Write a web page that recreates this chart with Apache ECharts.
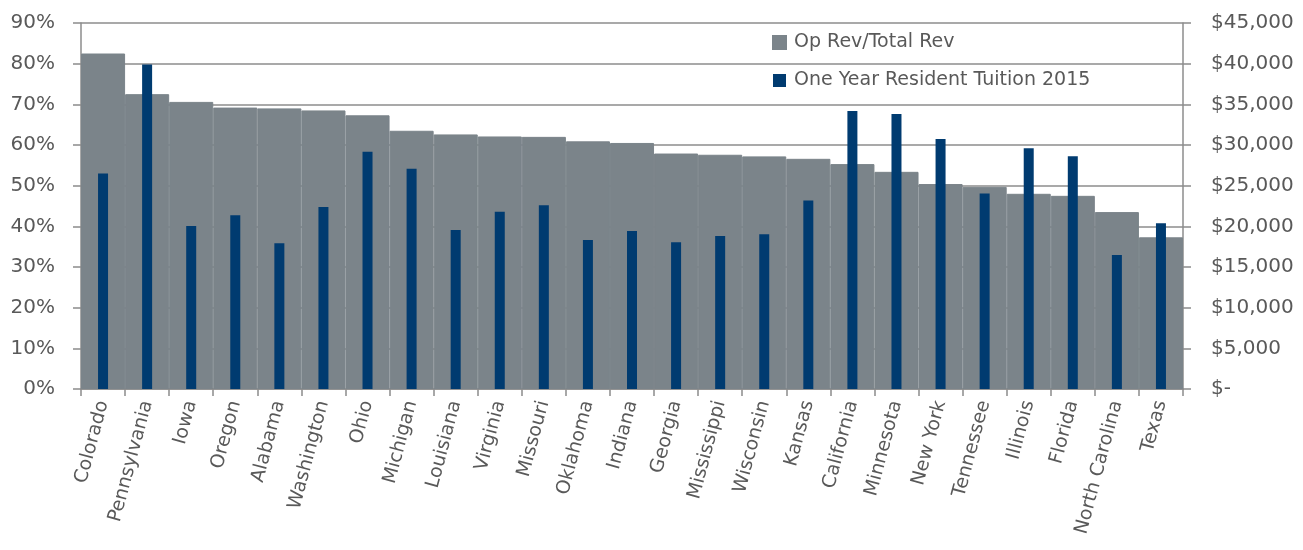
<!DOCTYPE html>
<html>
<head>
<meta charset="utf-8">
<script src="https://cdn.jsdelivr.net/npm/echarts@6/dist/echarts.min.js"></script>
<style>
html,body{margin:0;padding:0;background:#fff;}
#chart{width:1303px;height:550px;}
</style>
</head>
<body>
<div id="chart"></div>
<script>
const states = ["Colorado","Pennsylvania","Iowa","Oregon","Alabama","Washington","Ohio","Michigan","Louisiana","Virginia","Missouri","Oklahoma","Indiana","Georgia","Mississippi","Wisconsin","Kansas","California","Minnesota","New York","Tennessee","Illinois","Florida","North Carolina","Texas"];
const opRevShare = [82.5,72.5,70.6,69.2,69.0,68.5,67.3,63.5,62.6,62.1,62.0,60.9,60.5,57.9,57.6,57.2,56.6,55.3,53.4,50.4,49.7,48.0,47.5,43.5,37.3];
const tuition2015 = [26500,39900,20040,21350,17910,22370,29160,27070,19550,21800,22580,18320,19420,18040,18810,19020,23190,34190,33820,30750,24050,29610,28630,16480,20370];
const seriesNames = ["Op Rev/Total Rev","One Year Resident Tuition 2015"];

const FONT = "DejaVu Sans";
const TXT = "#595959";
const AX = "#8c8c8c";
const GRAY = '#7b848a';

const chart = echarts.init(document.getElementById('chart'));
chart.setOption({
  animation: false,
  textStyle: {fontFamily: FONT},
  grid: {left: 81, right: 120, top: 23, bottom: 161, containLabel: false},
  legend: {
    orient: 'vertical',
    left: 767, top: 28,
    itemWidth: 13, itemHeight: 13, itemGap: 19,
    icon: 'rect',
    textStyle: {fontFamily: FONT, fontSize: 19, color: TXT, padding: [0,0,0,3]},
    data: seriesNames
  },
  xAxis: [{
    type: 'category',
    data: states,
    boundaryGap: true,
    axisLine: {lineStyle: {color: AX, width: 1.5}},
    axisTick: {show: true, length: 7, lineStyle: {color: AX, width: 1.5}},
    axisLabel: {rotate: 75, fontFamily: FONT, fontSize: 19, color: TXT, margin: 12, interval: 0}
  },{
    type: 'category',
    data: states,
    show: false
  }],
  yAxis: [{
    type: 'value',
    min: 0, max: 90, interval: 10,
    axisLine: {show: true, lineStyle: {color: AX, width: 1.5}},
    axisTick: {show: true, length: 8, lineStyle: {color: AX, width: 1.5}},
    axisLabel: {formatter: '{value}%', fontFamily: FONT, fontSize: 20, color: TXT, margin: 26},
    splitLine: {show: true, lineStyle: {color: AX, width: 1.5}}
  },{
    type: 'value',
    min: 0, max: 45000, interval: 5000,
    position: 'right',
    axisLine: {show: true, lineStyle: {color: AX, width: 1.5}},
    axisTick: {show: true, length: 8, lineStyle: {color: AX, width: 1.5}},
    axisLabel: {
      formatter: v => v === 0 ? '$-' : '$' + v.toLocaleString('en-US'),
      fontFamily: FONT, fontSize: 20, color: TXT, margin: 28
    },
    splitLine: {show: false}
  }],
  series: [{
    name: seriesNames[0],
    type: 'bar',
    xAxisIndex: 0, yAxisIndex: 0,
    data: opRevShare,
    barWidth: '100%',
    itemStyle: {color: GRAY, borderColor: GRAY, borderWidth: 1}
  },{
    name: seriesNames[1],
    type: 'bar',
    xAxisIndex: 1, yAxisIndex: 1,
    data: tuition2015,
    barWidth: 10,
    itemStyle: {color: '#003b70'}
  }]
});
</script>
</body>
</html>
